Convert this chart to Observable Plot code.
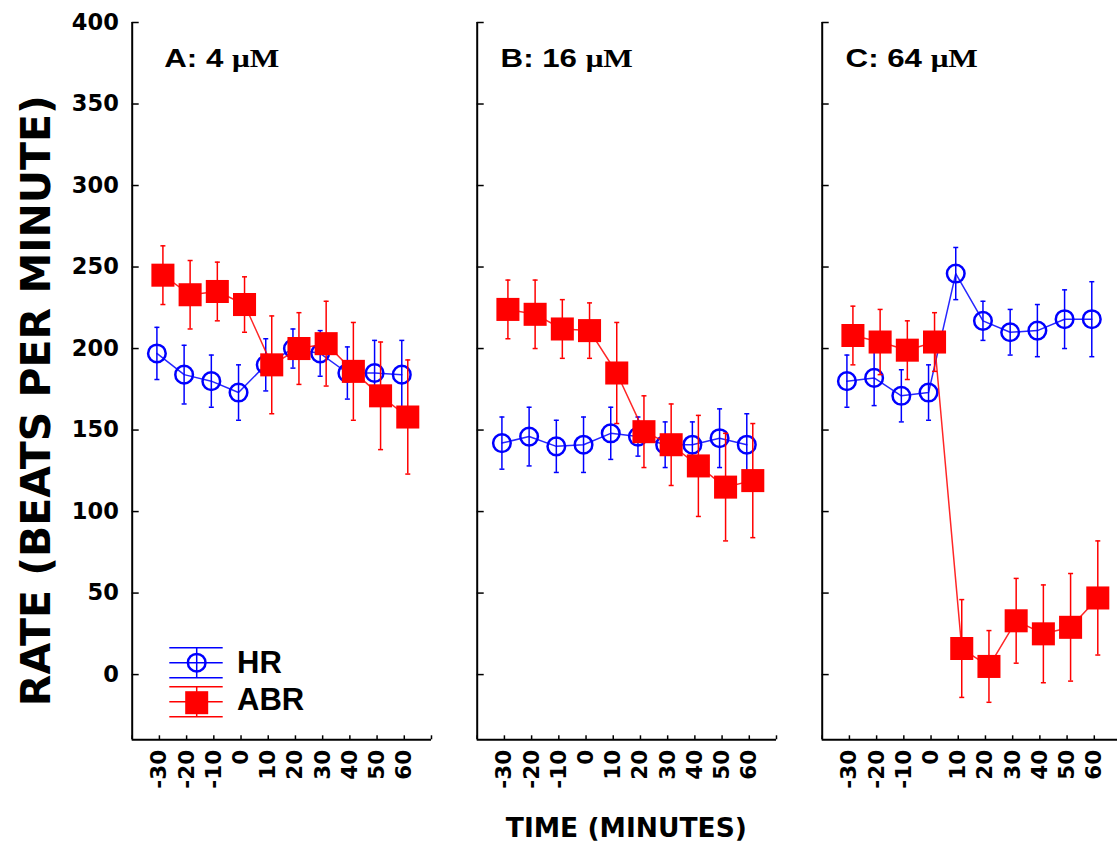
<!DOCTYPE html>
<html>
<head>
<meta charset="utf-8">
<script src="https://cdn.jsdelivr.net/npm/d3@7"></script>
<script src="https://cdn.jsdelivr.net/npm/@observablehq/plot@0.6"></script>
<style>
  html, body { margin: 0; padding: 0; background: #fff; overflow: hidden; }
  #chart { position: relative; width: 1117px; height: 848px; overflow: hidden; }
</style>
</head>
<body>
<div id="chart"></div>
<script>
// Sampling times (minutes relative to drug application)
const times = [-30, -20, -10, 0, 10, 20, 30, 40, 50, 60];
const panelKeys = ["A", "B", "C"];
const panelDoses = ["4", "16", "64"];
const yTicks = [0, 50, 100, 150, 200, 250, 300, 350, 400];
const xTickMarks = [-40, -30, -20, -10, 0, 10, 20, 30, 40, 50, 60, 70];

// Heart rate (HR), mean and error, per panel
const hrA = [197, 184, 180, 173, 190, 200, 197, 185, 185, 184];
const hrAErr = [16, 18, 16, 17, 16, 12, 14, 16, 20, 21];
const hrB = [142, 146, 140, 141, 148, 146, 141, 141, 145, 141];
const hrBErr = [16, 18, 16, 17, 16, 12, 14, 14, 18, 19];
const hrC = [180, 182, 171, 173, 246, 217, 210, 211, 218, 218];
const hrCErr = [16, 17, 16, 17, 16, 12, 14, 16, 18, 23];

// Atrial beat rate (ABR), mean and error, per panel
const abrA = [245, 233, 235, 227, 190, 200, 203, 186, 171, 158];
const abrAErr = [18, 21, 18, 17, 30, 22, 26, 30, 33, 35];
const abrB = [224, 221, 212, 211, 185, 149, 141, 128, 115, 119];
const abrBErr = [18, 21, 18, 17, 31, 22, 25, 31, 33, 35];
const abrC = [208, 204, 199, 204, 16, 5, 33, 25, 29, 47];
const abrCErr = [18, 20, 18, 18, 30, 22, 26, 30, 33, 35];

const rows = (panel, means, errs) =>
  times.map((t, i) => ({panel, t, v: means[i], e: errs[i]}));

const hr = [...rows("A", hrA, hrAErr), ...rows("B", hrB, hrBErr), ...rows("C", hrC, hrCErr)];
const abr = [...rows("A", abrA, abrAErr), ...rows("B", abrB, abrBErr), ...rows("C", abrC, abrCErr)];

const BLUE = "#0000ff";
const RED = "#ff0000";

// short horizontal stroke used as error-bar cap
const capSymbol = {
  draw(ctx, size) {
    const w = Math.sqrt(size / Math.PI);
    ctx.moveTo(-w, 0);
    ctx.lineTo(w, 0);
  }
};

function series(data, color, dx, marker) {
  return [
    Plot.line(data, {fx: "panel", x: "t", y: "v", stroke: color, strokeWidth: 1.5, strokeOpacity: 0.85, dx}),
    Plot.ruleX(data, {fx: "panel", x: "t", y1: d => d.v - d.e, y2: d => d.v + d.e, stroke: color, strokeWidth: 1.5, dx}),
    Plot.dot(data, {fx: "panel", x: "t", y: d => d.v - d.e, symbol: capSymbol, r: 2.5, fill: "none", stroke: color, strokeWidth: 1.5, dx}),
    Plot.dot(data, {fx: "panel", x: "t", y: d => d.v + d.e, symbol: capSymbol, r: 2.5, fill: "none", stroke: color, strokeWidth: 1.5, dx}),
    marker
  ];
}

const plot = Plot.plot({
  width: 1121,
  height: 848,
  marginLeft: 131.7,
  marginRight: 0,
  marginTop: 22,
  marginBottom: 108.7,
  style: {fontFamily: "DejaVu Sans", fontWeight: "bold", maxWidth: "none", background: "#fff", color: "#000", overflow: "visible"},
  fx: {domain: panelKeys, paddingInner: 0.1325, paddingOuter: 0, round: false, axis: null, label: null},
  x: {domain: [-40, 70], label: null},
  y: {domain: [-40, 400], label: null},
  marks: [
    // axis lines
    Plot.ruleX([-40], {stroke: "#000", strokeWidth: 2}),
    Plot.ruleY([-40], {stroke: "#000", strokeWidth: 2}),
    // y tick labels (first panel only) and inward tick marks (every panel)
    Plot.axisY({ticks: yTicks, tickSize: 0, tickPadding: 13.4, fontSize: 22.5, label: null, tickFormat: d => String(d)}),
    Plot.axisY({ticks: yTicks, tickSize: -7, strokeWidth: 1.5, tickFormat: () => "", facetAnchor: null, label: null}),
    // x tick labels, rotated, and inward tick marks
    Plot.axisX({ticks: times, tickSize: 0, tickPadding: 10, tickRotate: -90, fontSize: 21.5, label: null, tickFormat: d => String(d)}),
    Plot.axisX({ticks: xTickMarks, tickSize: -4, strokeWidth: 1.5, tickFormat: () => "", label: null}),
    // HR: hollow blue circles, slightly left of the sampling time
    ...series(hr, BLUE, -2.5,
      Plot.dot(hr, {fx: "panel", x: "t", y: "v", r: 8.8, fill: "none", stroke: BLUE, strokeWidth: 2.5, dx: -2.5})),
    // ABR: filled red squares, slightly right of the sampling time
    ...series(abr, RED, 3.5,
      Plot.dot(abr, {fx: "panel", x: "t", y: "v", symbol: "square", r: 13, fill: RED, stroke: "none", dx: 3.5}))
  ]
});

document.getElementById("chart").appendChild(plot);

// annotations placed from the facet and y scales
const svg = d3.select(plot);
const fx = plot.scale("fx");
const bw = fx.bandwidth;
const left = k => fx.apply(k);
const y = plot.scale("y");

// panel titles: "A: 4 µM" etc.
panelKeys.forEach((k, i) => {
  const t = svg.append("text")
    .attr("transform", `translate(${left(k) + 90},67.3) scale(1.25,1)`)
    .attr("text-anchor", "middle")
    .style("font-size", "25px")
    .style("font-weight", "bold")
    .style("white-space", "pre");
  t.append("tspan").style("font-family", "'Liberation Sans', Arial, sans-serif").text(`${k}: ${panelDoses[i]} `);
  t.append("tspan").style("font-family", "'Liberation Serif', 'Times New Roman', serif").text("\u03bcM");
});

// y axis title
svg.append("text")
  .attr("transform", `translate(50,${(y.apply(400) + y.apply(-40)) / 2 + 20}) rotate(-90)`)
  .attr("text-anchor", "middle")
  .style("font-family", "'DejaVu Sans', sans-serif")
  .style("font-weight", "bold")
  .style("font-size", "41px")
  .text("RATE (BEATS PER MINUTE)");

// x axis title, centred under the middle panel
svg.append("text")
  .attr("x", left("B") + bw / 2)
  .attr("y", 836.7)
  .attr("text-anchor", "middle")
  .style("font-family", "'DejaVu Sans', sans-serif")
  .style("font-weight", "bold")
  .style("font-size", "26.5px")
  .text("TIME (MINUTES)");

// legend inside the first panel
const legend = svg.append("g").attr("transform", `translate(${left("A")},0)`);
const legendItems = [
  {label: "HR", color: BLUE, cy: 662.7, kind: "circle", base: 672.7},
  {label: "ABR", color: RED, cy: 701.7, kind: "square", base: 710}
];
legendItems.forEach(item => {
  const g = legend.append("g");
  [-15, 0, 15].forEach(off => {
    g.append("line").attr("x1", 37.6).attr("x2", 91).attr("y1", item.cy + off).attr("y2", item.cy + off)
      .attr("stroke", item.color).attr("stroke-width", 1.5);
  });
  g.append("line").attr("x1", 65).attr("x2", 65).attr("y1", item.cy - 15).attr("y2", item.cy + 15)
    .attr("stroke", item.color).attr("stroke-width", 1.5);
  if (item.kind === "circle") {
    g.append("circle").attr("cx", 65).attr("cy", item.cy).attr("r", 8.8)
      .attr("fill", "none").attr("stroke", item.color).attr("stroke-width", 2.5);
  } else {
    g.append("rect").attr("x", 65 - 11.5).attr("y", item.cy + 1 - 11.5).attr("width", 23).attr("height", 23)
      .attr("fill", item.color);
  }
  g.append("text").attr("x", 105.3).attr("y", item.base)
    .attr("text-anchor", "start")
    .style("font-family", "'Liberation Sans', Arial, sans-serif")
    .style("font-weight", "bold")
    .style("font-size", "31px")
    .text(item.label);
});
</script>
</body>
</html>
